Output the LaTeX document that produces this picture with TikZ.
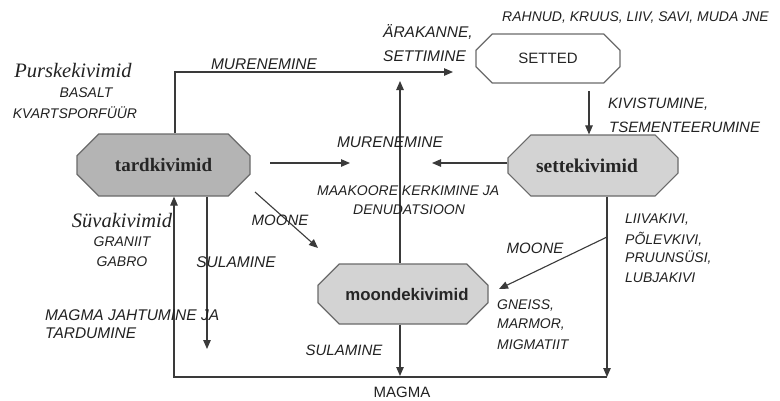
\documentclass[tikz,border=0pt]{standalone}
\usepackage{fontspec}
\setmainfont{Liberation Serif}
\setsansfont{Liberation Sans}
\usetikzlibrary{arrows.meta,shapes.misc}
\definecolor{txt}{HTML}{222222}
\definecolor{lncol}{HTML}{3A3A3A}
\definecolor{bdcol}{HTML}{6A6A6A}
\definecolor{grA}{HTML}{B4B4B4}
\definecolor{grB}{HTML}{D3D3D3}
\tikzset{
  box/.style={chamfered rectangle, draw=bdcol, line width=1.2pt, inner sep=0pt, text=black!85},
  arr/.style={draw=lncol, line width=1.1pt, -{Triangle[length=9pt,width=7.5pt]}},
  lbl/.style={font=\fontsize{14}{16}\selectfont\sffamily\itshape, text=txt, inner sep=0pt},
  lblL/.style={font=\fontsize{15.5}{17}\selectfont\sffamily\itshape, text=txt, inner sep=0pt},
  lblM/.style={font=\fontsize{15}{17}\selectfont\sffamily\itshape, text=txt, inner sep=0pt},
  ser/.style={font=\fontsize{20.5}{22}\selectfont\rmfamily\itshape, text=txt, inner sep=0pt},
}
\begin{document}
\begin{tikzpicture}[x=1pt,y=-1pt]
\useasboundingbox[fill=white] (0,0) rectangle (780,400);
% boxes
\node[box, fill=grA, minimum width=173pt, minimum height=62pt,
  chamfered rectangle xsep=21pt, chamfered rectangle ysep=15pt,
  font=\fontsize{19}{21}\selectfont\bfseries] (tard) at (163.5,165) {tardkivimid};
\node[box, fill=white, minimum width=144pt, minimum height=49pt,
  chamfered rectangle xsep=13pt, chamfered rectangle ysep=11pt,
  font=\fontsize{15}{17}\selectfont\sffamily] (setted) at (548,58.5) {SETTED};
\node[box, fill=grB, minimum width=170pt, minimum height=61pt,
  chamfered rectangle xsep=22pt, chamfered rectangle ysep=16pt,
  font=\fontsize{19.5}{21}\selectfont\bfseries] (sette) at (593,165.5) {\hspace*{-12pt}settekivimid};
\node[box, fill=grB, minimum width=170pt, minimum height=60pt,
  chamfered rectangle xsep=20pt, chamfered rectangle ysep=15pt,
  font=\fontsize{16.8}{19}\selectfont\sffamily\bfseries] (moonde) at (403,294) {\hspace*{8pt}moondekivimid};
% connectors
\coordinate (mtip) at (453,72);
\draw[arr] ([xshift=11.5pt]tard.north) |- (mtip);
\coordinate (s1) at (589,91);
\draw[arr] (s1) -- (s1 |- sette.north);
\coordinate (r1) at (270,163);
\coordinate (r2) at (350,163);
\draw[arr] (r1) -- (r2);
\coordinate (l2) at (432,163);
\draw[arr] (sette.west |- l2) -- (l2);
\coordinate (u2) at (400,81);
\draw[arr] (u2 |- moonde.north) -- (u2);
\coordinate (d1) at (255,192);
\coordinate (d2) at (318,248);
\draw[arr] (d1) -- (d2);
\coordinate (b2) at (607,377);
\draw[arr] (b2 |- sette.south) -- (b2);
\coordinate (br) at (607,237);
\coordinate (brt) at (499,289);
\draw[arr] (br) -- (brt);
\coordinate (b3) at (400,376);
\draw[arr] (b3 |- moonde.south) -- (b3);
\coordinate (bl) at (174,377);
\draw[arr] (b2) -- (bl) -- (bl |- tard.south);
\coordinate (sd) at (207,349);
\draw[arr] (sd |- tard.south) -- (sd);
% labels
\node[ser] (pk) at (73,71) {Purskekivimid};
\node[lbl] (bas) at (86,93) {BASALT};
\node[lbl] (kv) at (75,113) {KVARTSPORFÜÜR};
\node[ser] (sk) at (122,221) {Süvakivimid};
\node[lbl] (gr) at (122,242) {GRANIIT};
\node[lbl] (gb) at (122,262) {GABRO};
\node[lblL, anchor=west] (mj1) at (45,315) {MAGMA JAHTUMINE JA};
\node[lblL, anchor=west] (mj2) at (45,333) {TARDUMINE};
\node[lblL] (sul1) at (236,262) {SULAMINE};
\node[lblM] (mo1) at (280,220) {MOONE};
\node[lblL] (mur1) at (264,64) {MURENEMINE};
\node[lblL, anchor=west] (ar1) at (383,32) {ÄRAKANNE,};
\node[lblL, anchor=west] (ar2) at (383,56) {SETTIMINE};
\node[lbl, anchor=west] (rah) at (502,18) {RAHNUD, KRUUS, LIIV, SAVI, MUDA JNE};
\node[lblM, anchor=west] (ki1) at (608,104) {KIVISTUMINE,};
\node[lblM, anchor=west] (ki2) at (609,127) {TSEMENTEERUMINE};
\node[lblL] (mur2) at (390,142) {MURENEMINE};
\node[lbl, anchor=west] (maa1) at (317,191) {MAAKOORE KERKIMINE JA};
\node[lbl, anchor=west] (maa2) at (353,210) {DENUDATSIOON};
\node[lblM] (mo2) at (535,248) {MOONE};
\node[lbl, anchor=west] (lv1) at (625,220) {LIIVAKIVI,};
\node[lbl, anchor=west] (lv2) at (625,239) {PÕLEVKIVI,};
\node[lbl, anchor=west] (lv3) at (625,258) {PRUUNSÜSI,};
\node[lbl, anchor=west] (lv4) at (625,278) {LUBJAKIVI};
\node[lbl, anchor=west] (gn1) at (497,306) {GNEISS,};
\node[lbl, anchor=west] (gn2) at (497,325) {MARMOR,};
\node[lbl, anchor=west] (gn3) at (497,345) {MIGMATIIT};
\node[lblM] (sul2) at (344,350) {SULAMINE};
\node[font=\fontsize{15}{17}\selectfont\sffamily, text=txt, inner sep=0pt] (mag) at (402,392) {MAGMA};
\end{tikzpicture}
\end{document}
